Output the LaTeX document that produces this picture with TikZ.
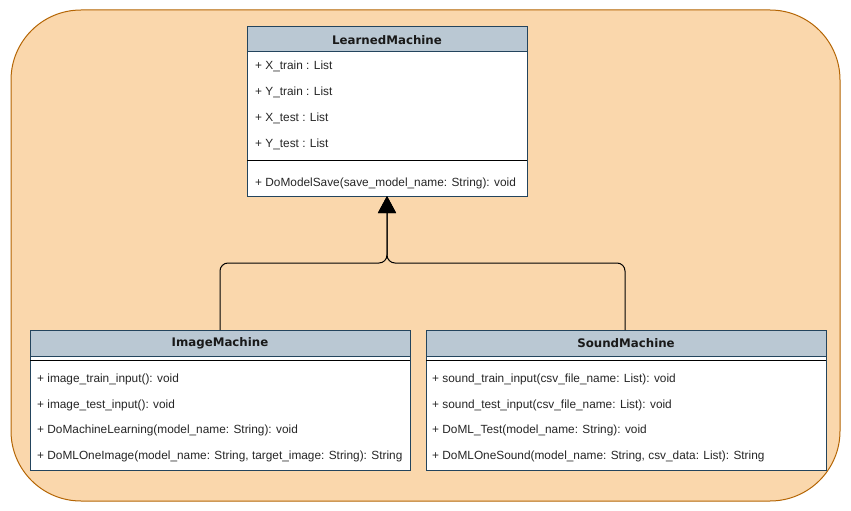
\documentclass[tikz,border=0pt]{standalone}
\usepackage{fontspec}
\setmainfont{Liberation Sans}
\newfontfamily\titlefont{DejaVu Sans}
\usetikzlibrary{arrows.meta}
\definecolor{bgfill}{HTML}{FAD7AC}
\definecolor{bgline}{HTML}{B46504}
\definecolor{hdfill}{HTML}{BAC8D3}
\definecolor{hdline}{HTML}{23445D}
\tikzset{
  boxbody/.style={draw=hdline, fill=white, line width=1pt},
  boxhead/.style={draw=hdline, fill=hdfill, line width=1pt},
  title/.style={font=\titlefont\fontsize{11.8}{13}\selectfont\bfseries, text=black!90, inner sep=0pt},
  member/.style={font=\fontsize{11.85}{14}\selectfont, text=black!85, anchor=base west, inner sep=0pt},
  sepline/.style={draw=black, line width=1pt},
  inherit/.style={draw=black, line width=1pt, rounded corners=8pt, -{Triangle[width=18pt,length=17pt]}}
}
\begin{document}
\begin{tikzpicture}[x=1pt,y=-1pt]
\useasboundingbox (0,0) rectangle (851,511);
\draw[fill=bgfill, draw=bgline, line width=1pt, rounded corners=70pt] (11,10) rectangle (840,501);

% LearnedMachine
\draw[boxbody] (247,27) rectangle (527,196);
\draw[boxhead] (247,27) rectangle (527,52);
\node[title] (lmtitle) at (387,40) {LearnedMachine};
\node[member] (lm1) at (255,69.5) {+ X\_train : List};
\node[member] (lm2) at (255,95.5) {+ Y\_train : List};
\node[member] (lm3) at (255,121.5) {+ X\_test : List};
\node[member] (lm4) at (255,147.5) {+ Y\_test : List};
\draw[sepline] (247,160) -- (527,160);
\node[member] (lm5) at (255,186.5) {+ DoModelSave(save\_model\_name: String): void};
\coordinate (lmbottom) at (387,196);

% ImageMachine
\draw[boxbody] (30,330) rectangle (410,470);
\draw[boxhead] (30,330) rectangle (410,356);
\node[title] (imtitle) at (220,343) {ImageMachine};
\draw[sepline] (30,360) -- (410,360);
\node[member] (im1) at (37,382.5) {+ image\_train\_input(): void};
\node[member] (im2) at (37,408.5) {+ image\_test\_input(): void};
\node[member] (im3) at (37,433.5) {+ DoMachineLearning(model\_name: String): void};
\node[member] (im4) at (37,459.5) {+ DoMLOneImage(model\_name: String, target\_image: String): String};
\coordinate (imtop) at (220,330);

% SoundMachine
\draw[boxbody] (426,330) rectangle (826,470);
\draw[boxhead] (426,330) rectangle (826,356);
\node[title] (smtitle) at (626,343) {SoundMachine};
\draw[sepline] (426,360) -- (826,360);
\node[member] (sm1) at (432,382.5) {+ sound\_train\_input(csv\_file\_name: List): void};
\node[member] (sm2) at (432,408.5) {+ sound\_test\_input(csv\_file\_name: List): void};
\node[member] (sm3) at (432,433.5) {+ DoML\_Test(model\_name: String): void};
\node[member] (sm4) at (432,459.5) {+ DoMLOneSound(model\_name: String, csv\_data: List): String};
\coordinate (smtop) at (625,330);

% inheritance
\draw[inherit] (imtop) |- (303,263) -| (lmbottom);
\draw[inherit] (smtop) |- (470,263) -| (lmbottom);
\end{tikzpicture}
\end{document}
